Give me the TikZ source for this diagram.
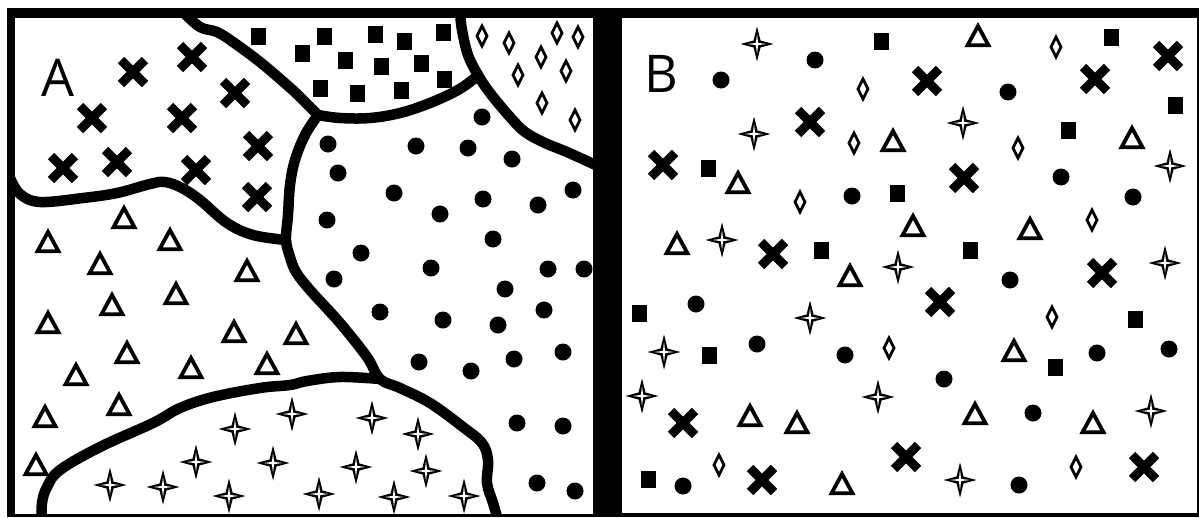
\documentclass[tikz,border=0pt]{standalone}
\usepackage{fontspec}
\newfontfamily\labelfont{Open Sans}
\tikzset{
  bound/.style={line width=10.5pt,line cap=round,line join=round},
  lbl/.style={font=\labelfont\fontsize{52}{52}\selectfont,inner sep=0pt},
  pics/pxmark/.style={code={\draw[line width=9pt] (-12,-12)--(12,12) (-12,12)--(12,-12);}},
  pics/psq/.style={code={\fill (-7.5,-8.5) rectangle (7.5,8.5);}},
  pics/pdot/.style={code={\fill (0,0) circle (8.5);}},
  pics/pdia/.style={code={\draw[line width=2.8pt,line join=miter] (0,-10)--(5,0)--(0,10)--(-5,0)--cycle;}},
  pics/ptri/.style={code={\draw[line width=3.8pt,line join=miter] (0,-9)--(10.5,10.3)--(-10.5,10.3)--cycle;}},
  pics/pstar/.style={code={
    \fill (0,-17.5)--(3.5,-3.5)--(16.5,0)--(3.5,3.5)--(0,17.5)--(-3.5,3.5)--(-16.5,0)--(-3.5,-3.5)--cycle;
    \fill[white] (0,-10)--(1.1,-1.1)--(9.5,0)--(1.1,1.1)--(0,10)--(-1.1,1.1)--(-9.5,0)--(-1.1,-1.1)--cycle;}},
}
\begin{document}
\begin{tikzpicture}[x=1pt,y=-1pt]
\useasboundingbox (0,0) rectangle (1199,517);
% frame
\fill[black] (7,8) rectangle (1199,517);
\fill[white] (15,18) rectangle (593,514);
\fill[white] (622,18) rectangle (1197,513);
% region boundaries of panel A
\begin{scope}
\clip (15,18) rectangle (593,514);
\draw[bound] plot[smooth,tension=0.6] coordinates {(183,12) (200,27) (217,32) (233,42) (260,62) (287,85) (300,97) (318,115)};
\draw[bound] plot[smooth,tension=0.6] coordinates {(318,115) (340,118) (370,118) (400,113) (430,103) (458,90) (475,78)};
\draw[bound] plot[smooth,tension=0.6] coordinates {(460,12) (462,30) (468,55) (478,75) (490,93) (510,117) (525,132) (545,143) (567,152) (600,167)};
\draw[bound] plot[smooth,tension=0.6] coordinates {(318,115) (305,135) (295,160) (290,185) (288,215) (286,240) (290,257) (296,272) (310,290) (340,323) (367,357) (380,379) (400,388) (430,403) (463,427) (482,443) (488,460) (487,483) (493,503) (498,520)};
\draw[bound] plot[smooth,tension=0.6] coordinates {(10,178) (20,194) (40,202) (83,198) (117,193) (150,184) (165,182) (182,188) (200,200) (227,223) (253,235) (286,240)};
\draw[bound] plot[smooth,tension=0.6] coordinates {(380,379) (340,377) (307,381) (290,385) (260,388) (213,397) (180,408) (153,423) (100,447) (60,470) (47,487) (42,503) (42,520)};
\end{scope}
% labels
\node[lbl] (labA) at (58,78) {A};
\node[lbl] (labB) at (661,74) {B};
% crosses
\foreach \p in {(133,72),(192,57),(235,93),(92,118),(182,118),(258,146),(63,168),(117,162),(196,170),(257,197),
  (927,81),(1095,79),(1168,56),(810,122),(964,178),(663,165),(773,254),(940,302),(1102,273),(683,423),(906,457),(762,480),(1144,467)}
  \pic at \p {pxmark};
% squares
\foreach \p in {(258,36),(302,53),(324,36),(375,34),(404,41),(443,32),(345,60),(381,66),(421,63),(320,88),(357,93),(401,90),(444,79),
  (881,41),(1111,37),(1175,105),(1068,130),(708,168),(897,193),(821,250),(970,250),(639,313),(709,355),(1135,319),(1055,367),(648,479)}
  \pic at \p {psq};
% diamonds
\foreach \p in {(482,36),(509,43),(557,33),(578,37),(541,57),(518,75),(566,71),(542,103),(575,120),
  (1056,47),(863,89),(854,143),(1018,148),(800,202),(1092,220),(1052,317),(889,348),(719,465),(1076,467)}
  \pic at \p {pdia};
% dots
\foreach \p in {(482,117),(328,144),(416,146),(468,148),(512,159),(338,173),(394,193),(483,199),(538,205),(573,190),(440,214),(327,220),(493,239),(361,253),(431,268),(334,279),(548,269),(584,269),(505,289),(544,310),(380,312),(443,320),(498,325),(563,352),(514,359),(419,362),(471,371),(517,423),(563,426),(537,483),(575,491),
  (721,80),(815,60),(1008,92),(852,196),(1061,177),(1133,197),(1010,280),(696,304),(757,344),(845,355),(1097,353),(1169,349),(944,379),(1033,413),(683,486),(1019,485)}
  \pic at \p {pdot};
% triangles
\foreach \p in {(124,217),(48,241),(170,239),(100,263),(247,270),(176,293),(112,304),(48,322),(127,352),(76,374),(191,367),(234,331),(296,333),(267,363),(45,416),(119,404),(36,464),
  (978,35),(893,140),(1132,137),(738,182),(677,243),(913,225),(1030,228),(850,275),(1014,350),(750,415),(797,422),(975,413),(1093,422),(842,483)}
  \pic at \p {ptri};
% stars
\foreach \p in {(292,414),(235,429),(196,462),(273,463),(110,485),(163,487),(229,496),(372,418),(418,434),(356,467),(426,471),(319,494),(394,497),(464,496),
  (757,44),(754,134),(963,123),(1170,166),(722,240),(898,267),(1165,263),(810,318),(664,352),(642,396),(878,397),(1151,411),(960,480)}
  \pic at \p {pstar};
\end{tikzpicture}
\end{document}
